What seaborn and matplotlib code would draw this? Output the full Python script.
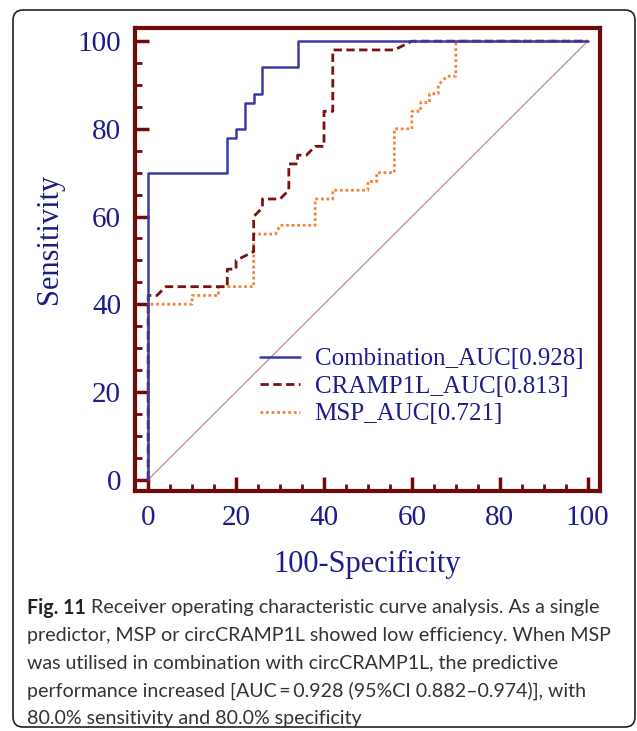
import matplotlib
matplotlib.use("Agg")
import matplotlib.pyplot as plt
from matplotlib.patches import FancyBboxPatch
from matplotlib.transforms import IdentityTransform
from matplotlib.ticker import MultipleLocator
import seaborn as sns

# ROC curves (100-Specificity, Sensitivity)
comb_x = [0, 0, 18, 18, 20, 20, 22, 22, 24, 24, 26, 26, 34, 34, 100]
comb_y = [0, 70, 70, 78, 78, 80, 80, 86, 86, 88, 88, 94, 94, 100, 100]

cramp_x = [0, 0, 2, 4, 18, 18, 20, 20, 24, 24, 26, 26, 30, 32, 32, 34, 34, 36, 38, 40, 40, 42, 42, 56, 60, 100]
cramp_y = [0, 42, 42, 44, 44, 48, 48, 50, 52, 60, 62, 64, 64, 66, 72, 72, 74, 74, 76, 76, 84, 84, 98, 98, 100, 100]

msp_x = [0, 0, 10, 10, 16, 16, 24, 24, 29, 30, 38, 38, 42, 42, 50, 50, 52, 52, 56, 56, 60, 60, 62, 62, 64, 64, 66, 66, 68, 70, 70, 100]
msp_y = [0, 40, 40, 42, 42, 44, 44, 56, 56, 58, 58, 64, 64, 66, 66, 68, 68, 70, 70, 80, 80, 84, 84, 86, 86, 88, 88, 90, 92, 92, 100, 100]

ref_x = [0, 100]
ref_y = [0, 100]

labels = ["Combination_AUC[0.928]", "CRAMP1L_AUC[0.813]", "MSP_AUC[0.721]"]
ticks = [0, 20, 40, 60, 80, 100]

caption_bold = "Fig. 11"
caption_lines = [
    " Receiver operating characteristic curve analysis. As a single",
    "predictor, MSP or circCRAMP1L showed low efficiency. When MSP",
    "was utilised in combination with circCRAMP1L, the predictive",
    "performance increased [AUC\u2009=\u20090.928 (95%CI 0.882\u20130.974)], with",
    "80.0% sensitivity and 80.0% specificity",
]

sns.set_style("white")
plt.rcParams["font.family"] = ["Liberation Serif", "DejaVu Serif"]

navy = "#1c1c8a"
frame = "#6e0a0a"

fig = plt.figure(figsize=(6.37, 7.31), dpi=100)
ax = fig.add_axes([135 / 637, 1 - 491 / 731, 465 / 637, 463 / 731])

sns.lineplot(x=ref_x, y=ref_y, ax=ax, color="#c48a8a", linewidth=0.9, sort=False, estimator=None)
sns.lineplot(x=msp_x, y=msp_y, ax=ax, color="#f5823a", linewidth=2.0, linestyle=(0, (1, 1)),
             sort=False, estimator=None, label=labels[2])
sns.lineplot(x=cramp_x, y=cramp_y, ax=ax, color="#7a1212", linewidth=2.0, linestyle=(0, (3, 1.6)),
             sort=False, estimator=None, label=labels[1])
sns.lineplot(x=comb_x, y=comb_y, ax=ax, color="#3a3aa8", linewidth=1.8,
             sort=False, estimator=None, label=labels[0])

ax.set_xlim(-3, 102.8)
ax.set_ylim(-2.6, 103)
ax.set_xticks(ticks)
ax.set_yticks(ticks)
ax.xaxis.set_minor_locator(MultipleLocator(5))
ax.yaxis.set_minor_locator(MultipleLocator(5))
ax.tick_params(which="major", direction="in", length=10, width=2.5, color=frame,
               labelsize=21, labelcolor=navy, pad=10)
ax.tick_params(which="minor", direction="in", length=5, width=2, color=frame)
ax.tick_params(axis="x", which="both", bottom=True, top=False)
ax.tick_params(axis="y", which="both", left=True, right=False)
for s in ax.spines.values():
    s.set_color(frame)
    s.set_linewidth(3)

ax.set_xlabel("100-Specificity", fontsize=22, color=navy, labelpad=14)
ax.set_ylabel("Sensitivity", fontsize=22, color=navy, va="center")
ax.yaxis.set_label_coords(-0.183, 0.544)

handles, labs = ax.get_legend_handles_labels()
order = [labs.index(l) for l in labels]
ax.legend([handles[i] for i in order], [labs[i] for i in order],
          loc="upper left", bbox_to_anchor=(0.268, 0.309), frameon=False,
          borderpad=0, borderaxespad=0,
          fontsize=18, labelcolor=navy, handlelength=1.6, handletextpad=0.6,
          labelspacing=0.2)

# caption box
fig.patches.append(FancyBboxPatch((13, 4), 622, 717, boxstyle="round,pad=0,rounding_size=10",
                                  transform=IdentityTransform(), fill=False,
                                  edgecolor="#222222", linewidth=1.2, figure=fig))

cap_font = ["Lato", "DejaVu Sans"]
x0 = 27 / 637
y0 = 1 - 608 / 731
dy = 27.6 / 731

# size the caption so the first line spans the same width as in the figure
probe_b = fig.text(0, 0, caption_bold, fontsize=15, fontweight="bold", family=cap_font)
probe_r = fig.text(0, 0, caption_lines[0], fontsize=15, family=cap_font)
fig.canvas.draw()
w = probe_b.get_window_extent().width + probe_r.get_window_extent().width
cap_size = 15 * 573 / w
probe_b.remove()
probe_r.remove()

bold = fig.text(x0, y0, caption_bold, fontsize=cap_size, fontweight="bold", family=cap_font,
                color="#222222", va="center")
fig.canvas.draw()
bb = bold.get_window_extent()
fig.text(bb.x1 / 637, y0, caption_lines[0], fontsize=cap_size, family=cap_font,
         color="#333333", va="center")
for i, line in enumerate(caption_lines[1:], start=1):
    fig.text(x0, y0 - i * dy, line, fontsize=cap_size, family=cap_font, color="#333333", va="center")

fig.savefig("out.png", dpi=100)
